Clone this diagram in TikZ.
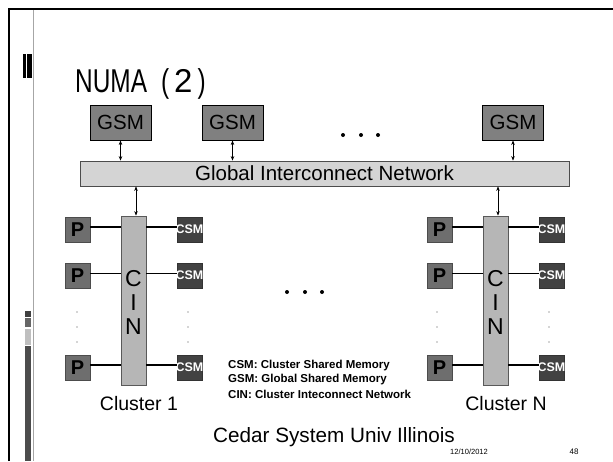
\documentclass[tikz,border=0pt]{standalone}
\usepackage{fontspec}
\setmainfont{Liberation Sans}
\newfontfamily\narrowsans[FakeStretch=0.74]{Liberation Sans}
\usetikzlibrary{arrows.meta}
\definecolor{gsmgray}{RGB}{128,128,128}
\definecolor{pgray}{RGB}{110,110,110}
\definecolor{csmgray}{RGB}{66,66,66}
\definecolor{cingray}{RGB}{182,182,182}
\definecolor{bargray}{RGB}{212,212,212}
\tikzset{
  x=1pt, y=-1pt,
  gsmbox/.style={draw=black, line width=0.9pt, fill=gsmgray, minimum width=61pt, minimum height=35pt, inner sep=0pt, font=\fontsize{20.5}{22}\selectfont},
  pbox/.style={draw=black!70, line width=0.8pt, fill=pgray, minimum width=25pt, minimum height=25pt, inner sep=0pt, font=\bfseries\fontsize{20}{22}\selectfont},
  csmbox/.style={draw=black!80, line width=0.6pt, fill=csmgray, minimum width=25pt, minimum height=25pt, inner sep=0pt},
  csmtext/.style={text=white, inner sep=0pt, font=\bfseries\fontsize{12.5}{13}\selectfont},
  cinbox/.style={draw=black!65, line width=0.8pt, fill=cingray, minimum height=169pt, inner sep=0pt},
  cinletter/.style={inner sep=0pt, font=\fontsize{23}{24}\selectfont},
  link/.style={{Stealth[length=4.5pt,width=3.5pt]}-{Stealth[length=4.5pt,width=3.5pt]}, line width=0.6pt},
  thickbus/.style={line width=2pt},
  thinbus/.style={line width=0.9pt},
  bigdot/.style={circle, fill=black, inner sep=0pt, minimum size=4pt},
  tinydot/.style={circle, fill=black!70, inner sep=0pt, minimum size=1.3pt},
  legend/.style={anchor=west, inner sep=0pt, font=\bfseries\fontsize{11.5}{12}\selectfont},
  caption/.style={inner sep=0pt, font=\fontsize{19.5}{21}\selectfont},
}
\begin{document}
\begin{tikzpicture}
\useasboundingbox (0,0) rectangle (613,461);
\fill[white] (0,0) rectangle (613,461);

% slide frame
\draw[line width=2pt] (9,461) -- (9,9) -- (613,9);
\draw[gray!70, line width=1pt] (33,10) -- (33,461);
\fill[black] (23,54) rectangle (25.5,78);
\fill[black] (26.5,54) rectangle (32,78);
\fill[black!75] (25,311) rectangle (31,317);
\fill[black!60] (25,318) rectangle (31,327);
\fill[black!25] (25,329) rectangle (31,345);
\fill[black!70] (25,346) rectangle (31,461);

% title
\node[anchor=base west, inner sep=0pt, font=\fontsize{33}{35}\selectfont] (title) at (75,92) {{\narrowsans NUMA}\hspace{14pt}{\narrowsans(}\hspace{5pt}2\hspace{5pt}{\narrowsans)}};

% global shared memories and network
\node[gsmbox] (g1) at (120.5,122.5) {GSM};
\node[gsmbox] (g2) at (232.5,122.5) {GSM};
\node[gsmbox] (g3) at (513,122.5) {GSM};
\node[bigdot] (td1) at (343,135) {};
\node[bigdot] (td2) at (361,135) {};
\node[bigdot] (td3) at (378,135) {};

\node[draw=black!70, line width=0.8pt, fill=bargray, minimum width=489pt, minimum height=25pt, inner sep=0pt, font=\fontsize{20.5}{22}\selectfont] (gin) at (324.5,173.5) {Global Interconnect Network};

\draw[link] (g1.south) -- (g1.south |- gin.north);
\draw[link] (g2.south) -- (g2.south |- gin.north);
\draw[link] (g3.south) -- (g3.south |- gin.north);

% cluster 1
\node[cinbox, minimum width=25pt] (cin1) at (133.5,300.5) {};
\node[cinletter] (c1c) at (133.5,279) {C};
\node[cinletter] (c1i) at (133.5,303) {I};
\node[cinletter] (c1n) at (133.5,327) {N};
\draw[link] (gin.south -| 136,0) coordinate (a1) -- (a1 |- cin1.north);

\node[pbox] (p11) at (77.5,230) {P};
\node[pbox] (p12) at (77.5,275.5) {P};
\node[pbox] (p13) at (77.5,367.5) {P};
\node[csmbox] (m11) at (189.5,230) {};
\node[csmbox] (m12) at (189.5,275.5) {};
\node[csmbox] (m13) at (189.5,367.5) {};
\node[csmtext] at (189.5,229.5) {CSM};
\node[csmtext] at (189.5,275) {CSM};
\node[csmtext] at (189.5,367) {CSM};

\draw[thickbus] ([yshift=3pt]p11.east) -- ([yshift=3pt]p11.east -| cin1.west);
\draw[thickbus] ([yshift=3pt]m11.west -| cin1.east) -- ([yshift=3pt]m11.west);
\draw[thinbus] ([yshift=2pt]p12.east) -- ([yshift=2pt]p12.east -| cin1.west);
\draw[thinbus] ([yshift=2pt]m12.west -| cin1.east) -- ([yshift=2pt]m12.west);
\draw[thickbus] ([yshift=2.5pt]p13.east) -- ([yshift=2.5pt]p13.east -| cin1.west);
\draw[thickbus] ([yshift=2.5pt]m13.west -| cin1.east) -- ([yshift=2.5pt]m13.west);

\foreach \yy [count=\k] in {312,327,342}{
  \node[tinydot] (d1p\k) at (77,\yy) {};
  \node[tinydot] (d1m\k) at (188,\yy) {};
}
\node[caption] (cl1) at (139,404) {Cluster 1};

% cluster N
\node[cinbox, minimum width=25pt] (cin2) at (495.5,300.5) {};
\node[cinletter] (c2c) at (495.5,279) {C};
\node[cinletter] (c2i) at (495.5,303) {I};
\node[cinletter] (c2n) at (495.5,327) {N};
\draw[link] (gin.south -| 498,0) coordinate (a2) -- (a2 |- cin2.north);

\node[pbox] (p21) at (439.5,230) {P};
\node[pbox] (p22) at (439.5,275.5) {P};
\node[pbox] (p23) at (439.5,367.5) {P};
\node[csmbox] (m21) at (551.5,230) {};
\node[csmbox] (m22) at (551.5,275.5) {};
\node[csmbox] (m23) at (551.5,367.5) {};
\node[csmtext] at (551.5,229.5) {CSM};
\node[csmtext] at (551.5,275) {CSM};
\node[csmtext] at (551.5,367) {CSM};

\draw[thickbus] ([yshift=3pt]p21.east) -- ([yshift=3pt]p21.east -| cin2.west);
\draw[thickbus] ([yshift=3pt]m21.west -| cin2.east) -- ([yshift=3pt]m21.west);
\draw[thinbus] ([yshift=2pt]p22.east) -- ([yshift=2pt]p22.east -| cin2.west);
\draw[thinbus] ([yshift=2pt]m22.west -| cin2.east) -- ([yshift=2pt]m22.west);
\draw[thickbus] ([yshift=2.5pt]p23.east) -- ([yshift=2.5pt]p23.east -| cin2.west);
\draw[thickbus] ([yshift=2.5pt]m23.west -| cin2.east) -- ([yshift=2.5pt]m23.west);

\foreach \yy [count=\k] in {312,327,342}{
  \node[tinydot] (d2p\k) at (437,\yy) {};
  \node[tinydot] (d2m\k) at (549,\yy) {};
}
\node[caption] (cln) at (506,404) {Cluster N};

% clusters in between
\node[bigdot] (md1) at (287,292) {};
\node[bigdot] (md2) at (305,292) {};
\node[bigdot] (md3) at (322,292) {};

% legend
\node[legend] (l1) at (228,366) {CSM: Cluster Shared Memory};
\node[legend] (l2) at (228,380) {GSM: Global Shared Memory};
\node[legend] (l3) at (228,394) {CIN: Cluster Inteconnect Network};

% footer
\node[inner sep=0pt, font=\fontsize{20.7}{22}\selectfont] (foot) at (334,437) {Cedar System Univ Illinois};
\node[inner sep=0pt, font=\fontsize{7.5}{8}\selectfont] (date) at (469,452) {12/10/2012};
\node[inner sep=0pt, font=\fontsize{8}{9}\selectfont] (page) at (574,452) {48};
\end{tikzpicture}
\end{document}
